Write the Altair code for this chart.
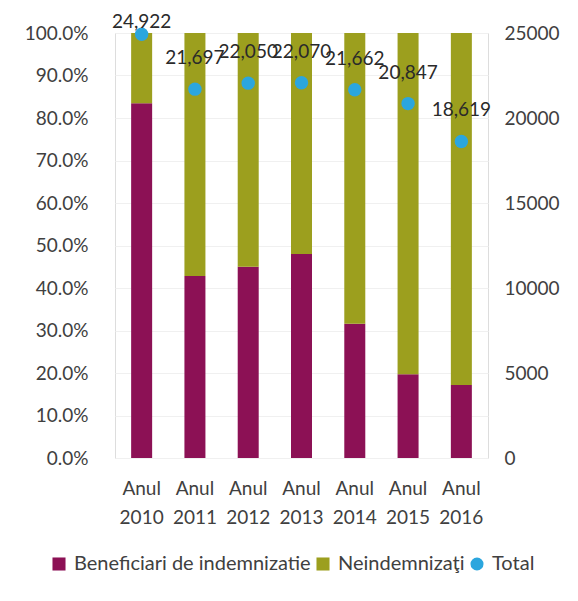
import altair as alt
import pandas as pd

years = ["Anul 2010", "Anul 2011", "Anul 2012", "Anul 2013", "Anul 2014", "Anul 2015", "Anul 2016"]
benef_pct = [83.5, 42.8, 45.0, 48.0, 31.6, 19.7, 17.2]
neind_pct = [16.5, 57.2, 55.0, 52.0, 68.4, 80.3, 82.8]
totals = [24922, 21697, 22050, 22070, 21662, 20847, 18619]

series_names = ["Beneficiari de indemnizatie", "Neindemnizaţi", "Total"]
colors = ["#8C1155", "#9C9F1E", "#2BA6DE"]
shapes = ["square", "square", "circle"]

rows = []
for y, b, n in zip(years, benef_pct, neind_pct):
    rows.append({"year": y, "series": series_names[0], "pct": b, "ord": 0})
    rows.append({"year": y, "series": series_names[1], "pct": n, "ord": 1})
bars_df = pd.DataFrame(rows)
tot_df = pd.DataFrame({"year": years, "total": totals, "series": ["Total"] * len(years)})
tot_df["first"] = [i == 0 for i in range(len(years))]

FONT = "Lato"
FS = 19
color_scale = alt.Scale(domain=series_names, range=colors)
shape_scale = alt.Scale(domain=series_names, range=shapes)

legend = alt.Legend(
    orient="none",
    legendX=-66,
    legendY=521,
    direction="horizontal",
    title=None,
    labelFontSize=20,
    labelFont=FONT,
    labelColor="#404040",
    labelLimit=400,
    symbolSize=170,
    symbolStrokeWidth=0,
    columnPadding=2,
    labelOffset=5,
    padding=0,
)

x_enc = alt.X(
    "year:N",
    sort=years,
    title=None,
    axis=alt.Axis(
        labelAngle=0,
        labelExpr="split(datum.label, ' ')",
        labelLineHeight=29,
        labelPadding=21,
        ticks=False,
        domain=False,
        labelFontSize=FS,
        labelColor="#404040",
        labelFont=FONT,
    ),
)

bars = alt.Chart(bars_df).mark_bar(size=21).encode(
    x=x_enc,
    y=alt.Y(
        "pct:Q",
        stack="normalize",
        title=None,
        scale=alt.Scale(domain=[0, 1]),
        axis=alt.Axis(
            labelExpr="format(datum.value, '.1%')",
            values=[i / 10 for i in range(11)],
            ticks=False,
            domain=False,
            grid=True,
            gridColor="#f0f0f0",
            labelFontSize=FS,
            labelColor="#404040",
            labelFont=FONT,
            labelPadding=27,
        ),
    ),
    color=alt.Color("series:N", scale=color_scale, legend=legend),
    order=alt.Order("ord:Q"),
)

base = alt.Chart(tot_df).encode(
    x=alt.X("year:N", sort=years),
    y=alt.Y(
        "total:Q",
        title=None,
        scale=alt.Scale(domain=[0, 25000]),
        axis=alt.Axis(
            orient="right",
            values=[0, 5000, 10000, 15000, 20000, 25000],
            format="d",
            ticks=False,
            domain=False,
            grid=False,
            labelFontSize=FS,
            labelColor="#404040",
            labelFont=FONT,
            labelPadding=16,
        ),
    ),
)

points = base.mark_point(filled=True, size=180, opacity=1).encode(
    color=alt.Color("series:N", scale=color_scale, legend=legend),
    shape=alt.Shape("series:N", scale=shape_scale, legend=legend),
)

labels_rest = base.transform_filter("!datum.first").mark_text(
    fontSize=FS, font=FONT, color="#2a2a2a", dy=-31, align="center", baseline="middle"
).encode(text=alt.Text("total:Q", format=","))

labels_first = base.transform_filter("datum.first").mark_text(
    fontSize=FS, font=FONT, color="#2a2a2a", dy=-12, align="center", baseline="middle"
).encode(text=alt.Text("total:Q", format=","))

right = alt.layer(points, labels_rest, labels_first)

chart = alt.layer(bars, right).resolve_scale(y="independent").properties(
    width=373, height=425,
    padding={"left": 16, "top": 5, "right": 0, "bottom": 5},
).configure_view(stroke=None).configure(background="white")

chart.save("out.html", embed_options={"renderer": "svg", "actions": False})
